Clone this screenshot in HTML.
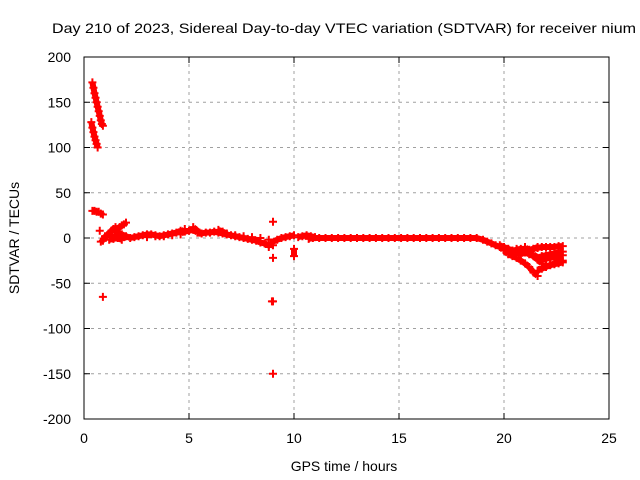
<!DOCTYPE html>
<html><head><meta charset="utf-8"><style>
html,body{margin:0;padding:0;background:#fff}
svg{display:block;font-family:"Liberation Sans",sans-serif;font-size:14px}
</style></head><body>
<svg id="chart" width="640" height="480">
<text x="52" y="33" textLength="584" lengthAdjust="spacingAndGlyphs">Day 210 of 2023, Sidereal Day-to-day VTEC variation (SDTVAR) for receiver nium</text>
<text x="344" y="471" text-anchor="middle">GPS time / hours</text>
<text transform="translate(19,238) rotate(-90)" text-anchor="middle">SDTVAR / TECUs</text>
<g id="grid"></g><g id="ticks"></g><g id="marks"></g>
<rect x="84" y="57" width="525" height="362" fill="none" stroke="#000" stroke-width="1"/>
</svg>
<script>
const xTicks=[0,5,10,15,20,25];
const yTicks=[200,150,100,50,0,-50,-100,-150,-200];
const times=[0.40,0.45,0.50,0.55,0.60,0.65,0.70,0.75,0.80,0.85,0.90,
0.35,0.40,0.45,0.50,0.55,0.60,0.65,
0.40,0.50,0.60,0.70,0.80,0.90,0.90,0.75,0.80,0.90,
1.0,1.1,1.2,1.3,1.4,1.5,1.6,1.7,1.8,1.9,2.0,1.2,1.4,1.6,1.8,1.3,1.5,1.7,1.9,1.5,1.6,1.8,2.0,
2.2,2.4,2.6,2.8,3.0,3.2,3.4,3.6,3.8,4.0,4.2,4.4,4.6,4.8,5.0,5.2,5.4,5.6,5.8,6.0,6.2,6.4,6.6,6.8,7.0,7.2,7.4,7.6,7.8,8.0,8.2,8.4,8.6,8.8,
3.0,3.4,3.8,4.2,4.6,4.8,5.2,5.5,6.4,6.6,6.8,7.2,7.6,8.0,8.4,8.8,
9.0,9.0,9.0,8.95,9.0,9.0,8.8,8.9,9.2,9.4,9.6,9.8,10.0,10.0,10.0,10.2,10.4,10.6,10.8,11.0,10.7,10.9,
11.2,11.5,11.8,12.1,12.4,12.7,13.0,13.3,13.6,13.9,14.2,14.5,14.8,15.1,15.4,15.7,16.0,16.3,16.6,16.9,17.2,17.5,17.8,18.1,18.4,18.7,
19.0,19.2,19.4,19.6,19.8,20.0,20.2,20.4,20.6,20.8,21.0,21.2,21.4,21.6,21.8,22.0,22.2,22.4,22.6,22.8,
20.0,20.2,20.4,20.6,20.8,21.0,21.2,21.4,21.6,
20.6,20.8,21.0,21.2,21.4,21.6,21.8,
21.0,21.2,21.4,21.6,
21.8,22.0,22.2,22.4,22.6,22.8,
21.8,22.0,22.2,22.4,22.6,22.8,
21.8,22.0,22.2,22.4,22.6,22.8,
21.6,21.8,22.0,22.2,22.4,22.6,22.8,
19.8,20.0,20.2,20.4,20.6,20.8,21.0,21.2,21.4,21.6];
const values=[172,166,160,155,150,145,140,135,130,126,124,
128,122,117,112,108,104,100,
30,30,29,29,27,26,-65,8,-4,-3,
2,3,5,8,10,12,10,12,14,15,17,-2,-1,0,-2,1,2,0,1,8,6,4,2,
0,1,2,3,4,4,3,2,3,4,5,6,8,7,8,9,6,5,6,6,7,6,5,4,3,2,1,0,-1,-2,-3,-5,-6,-8,
1,2,2,3,4,10,12,6,9,7,5,3,2,1,0,-2,
18,-8,-22,-70,-150,-70,-10,-5,-2,0,1,2,3,-12,-20,1,2,3,2,1,-1,0,
0,0,0,0,0,0,0,0,0,0,0,0,0,0,0,0,0,0,0,0,0,0,0,0,0,0,
-2,-4,-6,-8,-10,-12,-12,-14,-13,-12,-12,-13,-12,-11,-10,-10,-10,-10,-9,-9,
-14,-18,-20,-22,-25,-28,-32,-38,-42,
-12,-14,-16,-18,-20,-24,-28,
-10,-15,-18,-22,
-20,-19,-18,-17,-16,-15,
-24,-23,-22,-21,-20,-19,
-32,-31,-30,-29,-28,-27,
-36,-34,-32,-30,-28,-26,-25,
-8,-10,-12,-14,-16,-18,-16,-14,-12,-10];
const X0=84,X1=609,Y0=419,Y1=57;
const xs=v=>X0+(v-0)/(25-0)*(X1-X0);
const ys=v=>Y0-(v+200)/400*(Y0-Y1);
const NS="http://www.w3.org/2000/svg";
const grid=document.getElementById('grid'),ticks=document.getElementById('ticks'),marks=document.getElementById('marks');
function mk(tag,attrs,parent){const e=document.createElementNS(NS,tag);for(const k in attrs)e.setAttribute(k,attrs[k]);parent.appendChild(e);return e;}
xTicks.forEach(t=>{const x=xs(t);
 if(t>0&&t<25){const g=mk('line',{x1:x,x2:x,y1:Y1,y2:Y0,stroke:'#a0a0a0','stroke-dasharray':'3,4'},grid);
 
 }
 mk('line',{x1:x,x2:x,y1:Y0,y2:Y0-6,stroke:'#000'},ticks);
 mk('line',{x1:x,x2:x,y1:Y1,y2:Y1+6,stroke:'#000'},ticks);
 const l=mk('text',{x:x,y:Y0+24,'text-anchor':'middle'},ticks);l.textContent=t;
 
 });
yTicks.forEach(t=>{const y=ys(t);
 if(t>-200&&t<200){const g=mk('line',{x1:X0,x2:X1,y1:y,y2:y,stroke:'#a0a0a0','stroke-dasharray':'3,4'},grid);
 
 }
 mk('line',{x1:X0,x2:X0+6,y1:y,y2:y,stroke:'#000'},ticks);
 mk('line',{x1:X1,x2:X1-6,y1:y,y2:y,stroke:'#000'},ticks);
 const l=mk('text',{x:X0-13,y:y+5,'text-anchor':'end'},ticks);l.textContent=t;
 
 });
for(let i=0;i<times.length;i++){
 const x=xs(times[i]),y=ys(values[i]);
 const p=mk('path',{d:`M${x-4},${y}H${x+4}M${x},${y-4}V${y+4}`,stroke:'#ff0000','stroke-width':2,fill:'none'},marks);
 
 
 if(i+1<times.length && Math.abs(times[i+1]-times[i])<=0.31 && Math.abs(values[i+1]-values[i])<12){
  const q=mk('line',{x1:x,y1:y,x2:xs(times[i+1]),y2:ys(values[i+1]),stroke:'#ff0000','stroke-width':6},marks);
  
  }
}
</script>
</body></html>
